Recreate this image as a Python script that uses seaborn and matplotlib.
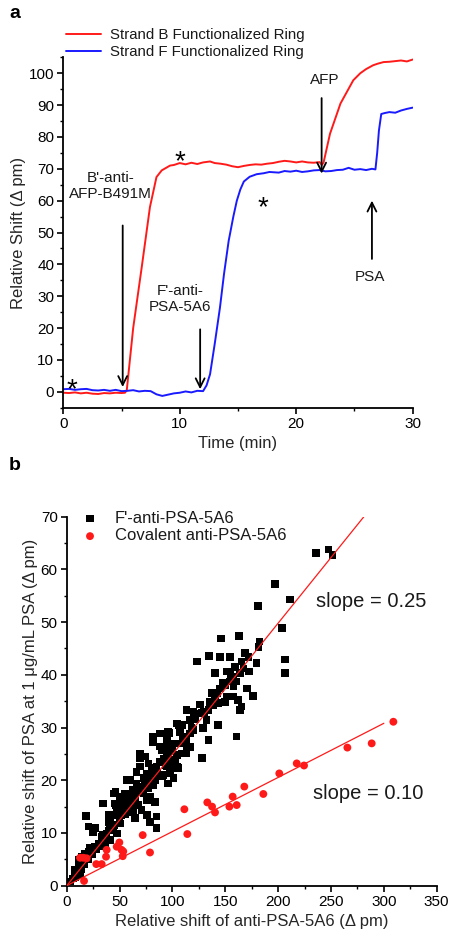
import numpy as np
import pandas as pd
import matplotlib
matplotlib.use("Agg")
import matplotlib.pyplot as plt
from matplotlib.ticker import MultipleLocator
import seaborn as sns

# ---------------- Panel a data ----------------
t_strand_b = [0, 0.5, 1, 1.5, 2, 2.5, 3, 3.5, 4, 4.5, 5, 5.3, 5.45, 6.0, 6.73, 7.44, 8.0, 8.45,
              9.16, 9.5, 10, 10.5, 11, 11.5, 12, 12.6, 13, 13.5, 14, 14.5, 15, 15.5, 16, 16.5,
              17, 17.5, 18, 18.5, 19, 19.5, 20, 20.5, 21, 21.5, 22, 22.2, 22.35, 22.9, 23.8,
              24.9, 25.5, 26, 26.6, 27, 27.5, 28, 28.5, 29, 29.5, 30]
v_strand_b = [-0.3, -0.4, -0.2, -0.5, -0.3, -0.6, -0.7, -0.4, -0.5, -0.3, -0.4, -0.3, 0.5, 20.0,
              39.0, 58.0, 67.4, 69.5, 71.0, 71.2, 71.8, 71.4, 71.9, 71.5, 72.0, 72.3, 71.8, 71.6,
              71.3, 70.8, 70.5, 70.9, 71.2, 71.4, 71.3, 71.6, 71.8, 72.2, 72.5, 72.3, 72.0, 72.3,
              72.0, 71.9, 72.1, 71.2, 72.0, 81.0, 90.5, 97.8, 100.0, 101.3, 102.5, 103.0, 103.5,
              103.6, 103.8, 104.0, 103.7, 104.3]

t_strand_f = [0, 0.5, 1, 1.5, 2, 2.5, 3, 3.5, 4, 4.5, 5, 5.5, 6, 6.5, 7, 7.5, 8, 8.5, 9, 9.5,
              10, 10.5, 11, 11.5, 12, 12.3, 12.6, 13, 13.45, 13.8, 14.2, 14.6, 14.9, 15.2, 15.5,
              16, 16.6, 17.2, 17.7, 18.5, 19, 19.5, 20, 20.5, 21, 21.5, 22, 22.5, 23, 23.5, 24,
              24.5, 25, 25.5, 26, 26.5, 26.8, 26.95, 27.1, 27.3, 27.6, 28, 28.5, 29, 29.5, 30]
v_strand_f = [0.8, 0.9, 0.6, 0.8, 0.9, 0.5, 0.4, 0.6, 0.3, 0.6, 0.2, 0.3, 0.5, 0.1, 0.3, 0.2,
              -0.8, -1.3, -0.9, -0.5, -0.3, 0.1, -0.2, 0.3, 0.2, 2.0, 5.5, 15.0, 26.4, 37.0, 47.4,
              55.0, 60.0, 63.5, 66.0, 67.5, 68.3, 68.6, 69.0, 68.8, 69.3, 69.1, 69.4, 69.0, 69.2,
              69.5, 69.6, 69.2, 69.3, 69.6, 69.7, 70.3, 69.7, 69.9, 69.6, 70.0, 69.8, 75.0, 82.0,
              87.2, 87.5, 87.8, 87.6, 88.3, 88.8, 89.2]

label_b = "Strand B Functionalized Ring"
label_f = "Strand F Functionalized Ring"

# ---------------- Panel b data ----------------
f_anti_x = [235.8, 247.5, 251.3, 197.3, 211.2, 180.7, 203.4, 206.5, 206.5, 182.2, 181.3, 179.7,
            176.5, 170.3, 172.7, 146.0, 162.7, 134.6, 145.0, 154.5, 123.0, 140.3, 151.4, 168.7,
            171.8, 165.5, 159.2, 157.6, 163.9, 167.1, 160.8, 157.6, 154.5, 148.1, 145.0, 141.9,
            151.4, 157.6, 162.3, 163.9, 165.5, 149.7, 143.4, 135.6, 134.0, 126.1, 119.8, 140.3,
            138.7, 126.1, 143.4, 132.4, 129.2, 134.0, 160.8, 127.7, 104.1, 108.8, 116.6, 113.5,
            107.2, 100.9, 93.0, 96.1, 88.3, 81.9, 113.5, 104.1, 94.6, 97.7, 88.3, 85.1, 94.6,
            100.9, 105.6, 80.4, 75.7, 85.1, 91.4, 97.7, 96.1, 100.9, 69.3, 69.3, 74.1, 66.2, 72.5,
            78.8, 81.9, 77.2, 67.7, 63.0, 56.8, 66.2, 72.5, 78.8, 75.7, 83.5, 85.1, 78.8, 85.1,
            63.0, 56.8, 61.5, 67.7, 70.9, 63.0, 64.6, 50.4, 53.5, 45.7, 47.3, 44.1, 34.6, 51.9,
            45.7, 41.0, 39.4, 50.4, 44.1, 47.3, 37.8, 34.6, 41.0, 36.2, 29.9, 26.8, 22.0, 23.6,
            17.3, 14.2, 11.0, 11.0, 9.5, 6.2, 3.1, 15.7, 18.3, 20.8, 24.6, 27.1, 19.5, 12.6, 7.9,
            77.2, 69.3, 88.3, 81.9, 94.6, 107.2, 110.3, 116.6, 113.5, 46.0, 60.2, 55.4, 33.4,
            36.5, 30.3, 20.8, 14.5, 12.9, 42.9, 49.2, 39.7, 41.2, 46.0, 50.7, 55.4, 75.9, 83.8,
            66.5, 64.9, 58.6, 60.2, 76.0, 90.1, 93.3, 82.3, 127.7, 97.1, 105.6, 72.5, 99.3, 108.8,
            113.5, 116.6, 89.9, 95.1, 91.4, 102.4, 104.1, 118.0, 122.0, 130.0, 137.0, 150.0,
            155.0, 120.0, 110.0, 100.0, 92.0, 86.0, 80.0, 74.0, 70.0, 65.0, 60.0, 55.0, 50.0,
            45.0, 40.0, 36.0, 32.0, 28.0, 24.0, 20.0, 17.0, 14.0, 10.0, 8.0]
f_anti_y = [63.1, 63.8, 62.7, 57.2, 54.3, 53.1, 48.9, 42.9, 40.3, 46.3, 45.3, 42.3, 36.0, 37.4,
            40.6, 46.9, 47.4, 43.6, 43.4, 43.4, 42.5, 40.3, 40.6, 44.1, 43.4, 42.5, 41.5, 39.6,
            40.3, 41.2, 38.7, 37.8, 38.7, 38.4, 37.4, 36.5, 35.9, 35.9, 35.2, 33.3, 34.0, 34.9,
            34.7, 34.9, 33.3, 34.4, 32.9, 35.9, 34.3, 32.7, 30.5, 31.4, 29.9, 27.6, 28.3, 24.2,
            30.8, 30.5, 28.9, 27.6, 27.0, 27.0, 26.4, 29.2, 28.9, 28.3, 25.1, 24.8, 25.1, 23.8,
            23.5, 22.6, 22.6, 22.3, 22.3, 21.9, 21.3, 21.0, 21.0, 21.3, 19.4, 20.4, 25.1, 24.2,
            24.5, 21.6, 20.4, 20.0, 19.1, 18.5, 18.8, 18.2, 20.0, 19.4, 17.5, 16.9, 16.3, 15.9,
            13.1, 12.1, 10.9, 17.2, 16.6, 15.6, 15.3, 14.4, 14.0, 12.8, 16.3, 15.3, 15.6, 14.4,
            17.5, 15.6, 13.4, 13.4, 12.5, 13.4, 11.8, 10.9, 9.9, 9.9, 9.6, 8.7, 7.4, 8.0, 7.4,
            7.1, 6.1, 6.1, 5.5, 4.9, 3.6, 2.7, 1.4, 0.8, 4.2, 13.2, 11.2, 10.1, 10.9, 5.5, 2.0,
            3.0, 23.2, 22.6, 26.4, 27.3, 27.6, 29.2, 28.3, 31.4, 33.3, 15.3, 20.0, 14.4, 9.3,
            8.7, 7.5, 6.5, 4.6, 3.6, 13.4, 14.4, 12.1, 11.2, 17.8, 16.9, 17.5, 19.1, 20.0, 17.8,
            15.9, 16.3, 15.0, 13.4, 20.7, 22.9, 22.3, 32.8, 29.0, 30.5, 24.5, 26.5, 25.1, 26.1,
            26.3, 25.7, 26.1, 23.8, 23.8, 22.6, 30.0, 31.5, 33.0, 36.5, 38.0, 40.0, 29.5, 27.5,
            25.5, 24.0, 21.5, 20.5, 19.0, 18.0, 16.5, 14.5, 13.5, 12.5, 11.5, 10.5, 9.0, 8.0,
            7.0, 6.0, 5.0, 4.0, 3.2, 2.0, 1.6]

cov_x = [309.0, 288.5, 265.5, 224.5, 217.6, 201.1, 186.0, 168.0, 157.0, 160.8, 153.9, 133.0,
         137.5, 140.3, 111.3, 114.1, 71.9, 78.8, 49.8, 47.3, 51.9, 53.5, 53.0, 37.8, 37.2, 33.1,
         28.0, 12.6, 15.8, 18.9, 16.4]
cov_y = [31.1, 27.0, 26.2, 22.8, 23.2, 21.3, 17.4, 18.8, 16.9, 15.3, 15.0, 15.8, 15.0, 13.9,
         14.5, 9.8, 9.6, 6.3, 8.2, 7.4, 6.8, 6.5, 5.6, 6.8, 5.5, 4.1, 4.1, 5.3, 5.3, 5.2, 0.9]

label_fanti = "F'-anti-PSA-5A6"
label_cov = "Covalent anti-PSA-5A6"

# fitted lines: x-range and slope
fit_f_x = [0.0, 281.0]
fit_f_slope = 0.249
fit_c_x = [0.0, 300.0]
fit_c_slope = 0.1027

# ---------------- styling ----------------
sns.set_style("ticks")
plt.rcParams['font.family'] = ['Liberation Sans', 'DejaVu Sans']
plt.rcParams['axes.linewidth'] = 1.3
plt.rcParams['xtick.major.width'] = 1.2
plt.rcParams['ytick.major.width'] = 1.2
plt.rcParams['xtick.minor.width'] = 1.0
plt.rcParams['ytick.minor.width'] = 1.0
plt.rcParams['xtick.color'] = 'black'
plt.rcParams['ytick.color'] = 'black'
plt.rcParams['axes.edgecolor'] = 'black'
plt.rcParams['text.color'] = '#1a1a1a'

fig = plt.figure(figsize=(4.55, 9.43), dpi=100)
ax1 = fig.add_axes([63.3 / 455, 1 - 407.7 / 943, (412.7 - 63.3) / 455, (407.7 - 57.3) / 943])
ax2 = fig.add_axes([66.7 / 455, 1 - 885.7 / 943, (436.7 - 66.7) / 455, (885.7 - 516.7) / 943])

# ---------------- Panel a ----------------
df_b = pd.DataFrame({"t": t_strand_b, "v": v_strand_b})
df_f = pd.DataFrame({"t": t_strand_f, "v": v_strand_f})
sns.lineplot(data=df_b, x="t", y="v", color="#ff1a1a", lw=1.4, ax=ax1, label=label_b,
             estimator=None, sort=False)
sns.lineplot(data=df_f, x="t", y="v", color="#1a1aff", lw=1.4, ax=ax1, label=label_f,
             estimator=None, sort=False)
ax1.set_xlim(0, 30)
ax1.set_ylim(-5, 105)
ax1.xaxis.set_major_locator(MultipleLocator(10))
ax1.xaxis.set_minor_locator(MultipleLocator(5))
ax1.yaxis.set_major_locator(MultipleLocator(10))
ax1.yaxis.set_minor_locator(MultipleLocator(5))
ax1.set_xlabel("Time (min)", fontsize=12, labelpad=4)
ax1.set_ylabel("Relative Shift (\u0394 pm)", fontsize=12, labelpad=2)
ax1.legend(loc="upper left", bbox_to_anchor=(66 / 455, 1 - 28 / 943),
           bbox_transform=fig.transFigure, frameon=False, fontsize=10.8,
           handlelength=2.35, handletextpad=0.55, labelspacing=0.2, borderpad=0,
           borderaxespad=0)

ann_kw = dict(fontsize=11, ha="center", va="center", linespacing=1.15)
ax1.text(4.08, 64.5, "B'-anti-\nAFP-B491M", **ann_kw)
ax1.text(10.0, 29.2, "F'-anti-\nPSA-5A6", **ann_kw)
ax1.text(22.45, 97.8, "AFP", **ann_kw)
ax1.text(26.35, 35.9, "PSA", **ann_kw)

arrow_kw = dict(arrowstyle="->", lw=1.3, color="black", mutation_scale=16,
                shrinkA=0, shrinkB=0)
ax1.annotate("", xy=(5.1, 1.5), xytext=(5.1, 52.2), arrowprops=arrow_kw)
ax1.annotate("", xy=(11.75, 0.8), xytext=(11.75, 19.6), arrowprops=arrow_kw)
ax1.annotate("", xy=(22.18, 68.5), xytext=(22.18, 92.2), arrowprops=arrow_kw)
ax1.annotate("", xy=(26.5, 60.0), xytext=(26.5, 41.7), arrowprops=arrow_kw)

star_kw = dict(fontsize=20, ha="center", va="center", color="black")
ax1.text(0.75, 0.5, "*", **star_kw)
ax1.text(10.0, 72.0, "*", **star_kw)
ax1.text(17.1, 57.5, "*", **star_kw)

# ---------------- Panel b ----------------
df_fa = pd.DataFrame({"x": f_anti_x, "y": f_anti_y})
df_cv = pd.DataFrame({"x": cov_x, "y": cov_y})
sns.scatterplot(data=df_fa, x="x", y="y", marker="s", s=30, color="black", edgecolor="none",
                ax=ax2, label=label_fanti, zorder=3)
sns.scatterplot(data=df_cv, x="x", y="y", marker="o", s=32, color="#ff1a1a", edgecolor="none",
                ax=ax2, label=label_cov, zorder=3)
fit_f_y = [fit_f_slope * x for x in fit_f_x]
fit_c_y = [fit_c_slope * x for x in fit_c_x]
sns.lineplot(x=fit_f_x, y=fit_f_y, color="#ff1a1a", lw=0.9, ax=ax2, zorder=4, legend=False)
sns.lineplot(x=fit_c_x, y=fit_c_y, color="#ff1a1a", lw=0.9, ax=ax2, zorder=4, legend=False)
ax2.set_xlim(0, 350)
ax2.set_ylim(0, 70)
ax2.xaxis.set_major_locator(MultipleLocator(50))
ax2.xaxis.set_minor_locator(MultipleLocator(25))
ax2.yaxis.set_major_locator(MultipleLocator(10))
ax2.yaxis.set_minor_locator(MultipleLocator(5))
ax2.set_xlabel("Relative shift of anti-PSA-5A6 (\u0394 pm)", fontsize=12, labelpad=4)
ax2.set_ylabel("Relative shift of PSA at 1 \u03bcg/mL PSA (\u0394 pm)", fontsize=12, labelpad=2)
ax2.legend(loc="upper left", bbox_to_anchor=(80 / 455, 1 - 511 / 943),
           bbox_transform=fig.transFigure, frameon=False, fontsize=12,
           handlelength=1.2, handletextpad=0.9, labelspacing=0.15, borderpad=0,
           borderaxespad=0)
ax2.text(288.5, 53.9, "slope = 0.25", fontsize=14.5, ha="center", va="center")
ax2.text(285.3, 17.5, "slope = 0.10", fontsize=14.5, ha="center", va="center")

for ax in (ax1, ax2):
    sns.despine(ax=ax)
    ax.tick_params(axis="both", which="major", direction="out", length=4.5, labelsize=11, pad=2)
    ax.tick_params(axis="both", which="minor", direction="out", length=2.5)

fig.text(9 / 455, 1 - 13 / 943, "a", fontsize=14, fontweight="bold", ha="left", va="center",
         color="black")
fig.text(9 / 455, 1 - 466 / 943, "b", fontsize=14, fontweight="bold", ha="left", va="center",
         color="black")

fig.savefig("out.png", dpi=100)
